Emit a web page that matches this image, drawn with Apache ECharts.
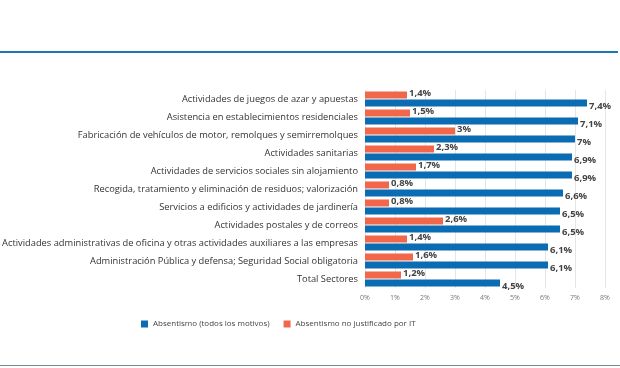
<!DOCTYPE html>
<html><head><meta charset="utf-8">
<script src="https://cdn.jsdelivr.net/npm/echarts@6/dist/echarts.min.js"></script>
<style>html,body{margin:0;padding:0;background:#fff}#c{width:620px;height:368px}</style>
</head><body><div id="c"></div>
<script>
const categories = [
  "Actividades de juegos de azar y apuestas",
  "Asistencia en establecimientos residenciales",
  "Fabricación de vehículos de motor, remolques y semirremolques",
  "Actividades sanitarias",
  "Actividades de servicios sociales sin alojamiento",
  "Recogida, tratamiento y eliminación de residuos; valorización",
  "Servicios a edificios y actividades de jardinería",
  "Actividades postales y de correos",
  "Actividades administrativas de oficina y otras actividades auxiliares a las empresas",
  "Administración Pública y defensa; Seguridad Social obligatoria",
  "Total Sectores"
];
const totalAbs = [7.4, 7.1, 7.0, 6.9, 6.9, 6.6, 6.5, 6.5, 6.1, 6.1, 4.5];
const unjustAbs = [1.4, 1.5, 3.0, 2.3, 1.7, 0.8, 0.8, 2.6, 1.4, 1.6, 1.2];
const seriesNames = ["Absentismo (todos los motivos)", "Absentismo no justificado por IT"];

const fmt = p => String(p.value).replace('.', ',') + '%';
const chart = echarts.init(document.getElementById('c'));
chart.setOption({
  animation: false,
  graphic: [
    {type:'rect', shape:{x:0,y:51,width:618,height:2}, style:{fill:'#1a78b4'}},
    {type:'rect', shape:{x:0,y:365,width:620,height:1}, style:{fill:'#7a8a90'}}
  ],
  legend: {
    data: seriesNames, left: 136, top: 315, itemWidth: 7, itemHeight: 7, itemGap: 14,
    icon: 'rect', textStyle: {fontSize: 8, color: '#444', fontFamily: 'Open Sans'}
  },
  grid: {left: 365, right: 15, top: 90, bottom: 80, containLabel: false, outerBoundsMode: 'none'},
  xAxis: {
    type: 'value', min: 0, max: 8, interval: 1,
    axisLabel: {formatter: v => v + '%', fontSize: 7, color: '#777', margin: 6, fontFamily: 'Open Sans'},
    splitLine: {lineStyle: {color: '#e6e6e6', width: 1}},
    axisLine: {show: false}, axisTick: {show: false}
  },
  yAxis: {
    type: 'category', data: categories, inverse: true,
    axisLine: {show: false}, axisTick: {show: false},
    axisLabel: {fontSize: 9.3, color: '#333', margin: 7, fontFamily: 'Open Sans'}
  },
  series: [
    {name: seriesNames[1], type: 'bar', data: unjustAbs, barWidth: 7, barGap: '15%',
     itemStyle: {color: '#f2664a'},
     label: {show: true, position: 'right', formatter: fmt, fontSize: 9.5, fontWeight: 'bold', color: '#444', distance: 2, offset:[0,-2], fontFamily: 'Open Sans'}},
    {name: seriesNames[0], type: 'bar', data: totalAbs, barWidth: 7,
     itemStyle: {color: '#0a6cb3'},
     label: {show: true, position: 'right', formatter: fmt, fontSize: 9.5, fontWeight: 'bold', color: '#444', distance: 2, offset:[0,3], fontFamily: 'Open Sans'}}
  ]
});
</script></body></html>
